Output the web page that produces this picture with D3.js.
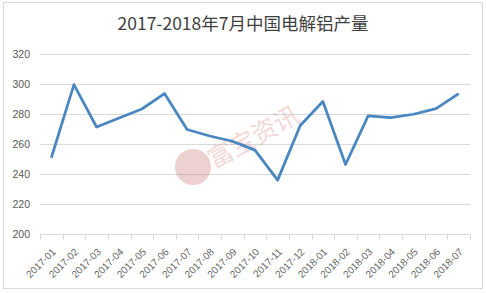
<!DOCTYPE html>
<html>
<head>
<meta charset="utf-8">
<script src="https://cdn.jsdelivr.net/npm/d3@7"></script>
<style>
  body { margin: 0; background: #fff; }
  text { font-family: "Liberation Sans", "Noto Sans CJK SC", sans-serif; }
</style>
</head>
<body>
<div id="chart"></div>
<script>
const months = ['2017-01', '2017-02', '2017-03', '2017-04', '2017-05', '2017-06', '2017-07',
    '2017-08', '2017-09', '2017-10', '2017-11', '2017-12', '2018-01', '2018-02', '2018-03',
    '2018-04', '2018-05', '2018-06', '2018-07'];
const output = [250.5, 299.3, 271, 277, 283, 293.3, 269.3, 265, 261.5, 255.6, 235.6, 272,
    288, 246, 278.4, 277.3, 279.5, 283.3, 293.3];
const yTicks = [200, 220, 240, 260, 280, 300, 320];
const title = '2017-2018年7月中国电解铝产量';

const width = 486;
const height = 293;
const margin = { top: 53, right: 16, bottom: 60, left: 40 };

const svg = d3.select('#chart')
    .append('svg')
    .attr('width', width)
    .attr('height', height);

// outer frame
svg.append('rect')
    .attr('x', 3.5).attr('y', 2.5)
    .attr('width', 479).attr('height', 286)
    .attr('fill', 'none')
    .attr('stroke', '#d9d9d9');

const x = d3.scaleBand()
    .domain(months)
    .range([margin.left, width - margin.right]);
const y = d3.scaleLinear()
    .domain([200, 320])
    .range([233.5, 53.5]);

// gridlines
svg.append('g')
    .selectAll('line')
    .data(yTicks.slice(1))
    .join('line')
    .attr('x1', margin.left).attr('x2', width - margin.right)
    .attr('y1', (d) => Math.round(y(d)) + 0.5)
    .attr('y2', (d) => Math.round(y(d)) + 0.5)
    .attr('stroke', '#d9d9d9');

// y labels
svg.append('g')
    .selectAll('text')
    .data(yTicks)
    .join('text')
    .attr('x', 30)
    .attr('y', (d) => y(d) + 4)
    .attr('text-anchor', 'end')
    .attr('font-size', 10.5)
    .attr('fill', '#595959')
    .text((d) => d);

// x axis
const xAxis = svg.append('g')
    .attr('transform', `translate(0,${Math.round(y(200)) + 0.5})`);
xAxis.append('line')
    .attr('x1', margin.left).attr('x2', width - margin.right)
    .attr('stroke', '#d9d9d9');
xAxis.selectAll('.tick')
    .data(months.concat(['end']))
    .join('line')
    .attr('class', 'tick')
    .attr('x1', (d, i) => Math.round(margin.left + i * x.step()) + 0.5)
    .attr('x2', (d, i) => Math.round(margin.left + i * x.step()) + 0.5)
    .attr('y1', 0).attr('y2', 5)
    .attr('stroke', '#d9d9d9');
xAxis.selectAll('.lbl')
    .data(months)
    .join('text')
    .attr('class', 'lbl')
    .attr('text-anchor', 'end')
    .attr('font-size', 10)
    .attr('fill', '#666')
    .attr('transform', (d) => `translate(${x(d) + x.bandwidth() / 2 + 5},18) rotate(-45)`)
    .text((d) => d);

// watermark
const wm = svg.append('g').attr('opacity', 0.3);
wm.append('circle')
    .attr('cx', 193).attr('cy', 167).attr('r', 18)
    .attr('fill', '#c46a6a');
wm.append('text')
    .attr('transform', 'translate(214,169) rotate(-29)')
    .attr('font-size', 25)
    .attr('fill', '#d88080')
    .style('font-family', '"Noto Sans CJK SC", sans-serif')
    .text('富宝资讯');

// line
const line = d3.line()
    .x((d, i) => x(months[i]) + x.bandwidth() / 2)
    .y((d) => y(d));
svg.append('path')
    .datum(output)
    .attr('d', line)
    .attr('fill', 'none')
    .attr('stroke', '#4a86c0')
    .attr('stroke-width', 2.75)
    .attr('stroke-linejoin', 'round');

// title
svg.append('text')
    .attr('x', 243)
    .attr('y', 30)
    .attr('text-anchor', 'middle')
    .attr('font-size', 17.5)
    .attr('fill', '#404040')
    .style('font-family', '"Noto Sans CJK SC", sans-serif')
    .text(title);
</script>
</body>
</html>
